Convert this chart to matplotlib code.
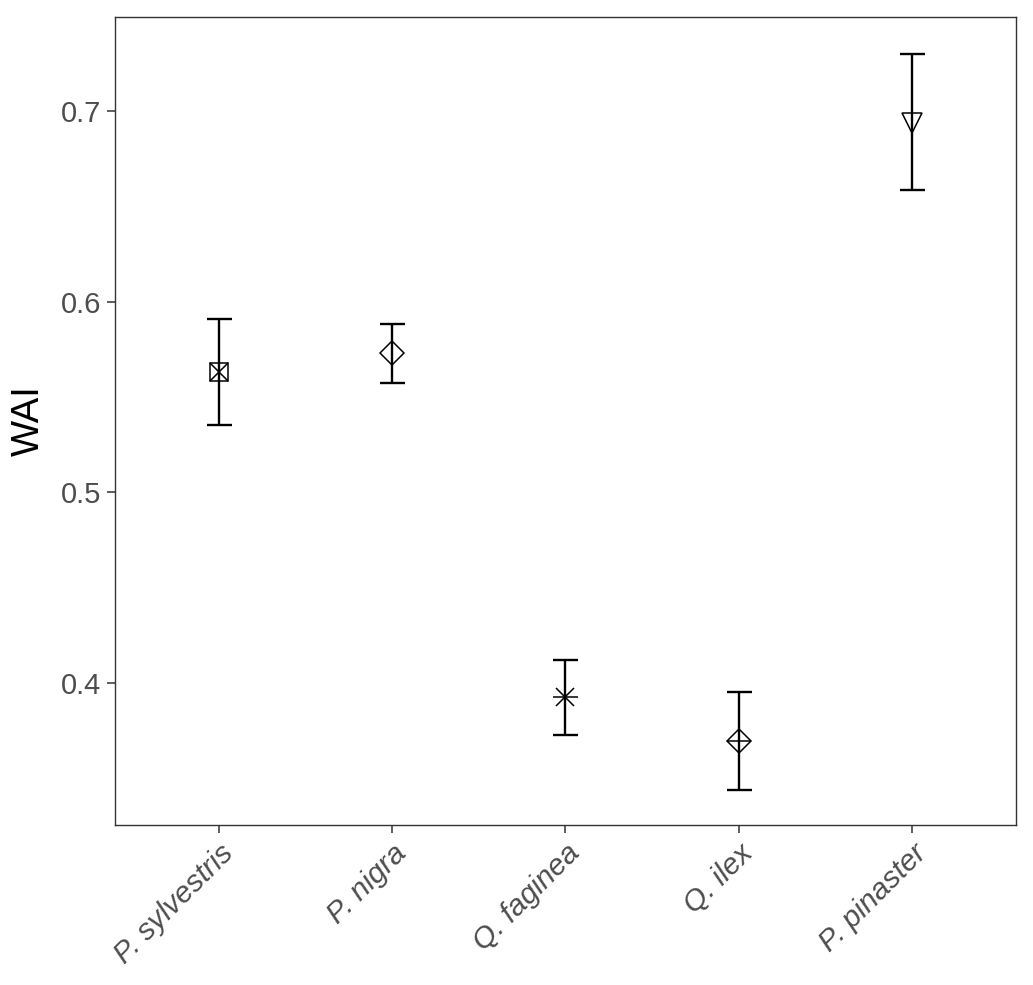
import matplotlib
matplotlib.use("Agg")
import matplotlib.pyplot as plt
import numpy as np

species = ["P. sylvestris", "P. nigra", "Q. faginea", "Q. ilex", "P. pinaster"]
wai_mean = [0.5633, 0.5733, 0.3927, 0.3696, 0.6937]
wai_low = [0.5355, 0.5575, 0.3727, 0.3439, 0.6586]
wai_high = [0.5911, 0.5885, 0.4121, 0.3953, 0.7299]
yticks = [0.4, 0.5, 0.6, 0.7]

plt.rcParams['font.family'] = ['Liberation Sans', 'DejaVu Sans']

fig = plt.figure(figsize=(10.33, 9.85), dpi=100)
ax = fig.add_axes([0.1113, 0.1624, 0.8722, 0.8203])

x = np.arange(1, len(species) + 1)
mean = np.array(wai_mean)
lo = mean - np.array(wai_low)
hi = np.array(wai_high) - mean
ax.errorbar(x, mean, yerr=[lo, hi], fmt='none', ecolor='black', elinewidth=1.7,
            capsize=9, capthick=1.7, zorder=2)

mew = 1.1
ms = 13
# P. sylvestris: square cross
ax.plot(x[0], mean[0], marker='s', ms=ms, mfc='none', mec='black', mew=mew, zorder=3)
ax.plot(x[0], mean[0], marker='x', ms=ms, mfc='none', mec='black', mew=mew, zorder=3)
# P. nigra: diamond
ax.plot(x[1], mean[1], marker='D', ms=12.5, mfc='none', mec='black', mew=mew, zorder=3)
# Q. faginea: asterisk
ax.plot(x[2], mean[2], marker='+', ms=18, mfc='none', mec='black', mew=mew, zorder=3)
ax.plot(x[2], mean[2], marker='x', ms=13, mfc='none', mec='black', mew=mew, zorder=3)
# Q. ilex: diamond plus
ax.plot(x[3], mean[3], marker='D', ms=12.5, mfc='none', mec='black', mew=mew, zorder=3)
ax.plot(x[3], mean[3], marker='+', ms=17.7, mfc='none', mec='black', mew=mew, zorder=3)
# P. pinaster: triangle down
ax.plot(x[4], mean[4], marker='v', ms=14, mfc='none', mec='black', mew=mew, zorder=3)

ax.set_xlim(0.4, 5.6)
ax.set_ylim(0.3255, 0.7493)
ax.set_xticks(x)
ax.set_xticklabels(species, rotation=45, ha='right', va='top', rotation_mode='anchor',
                   fontsize=21.5, style='italic', color='#4D4D4D')
ax.set_yticks(yticks)
ax.set_yticklabels([f"{v:.1f}" for v in yticks], fontsize=21, color='#4D4D4D')
ax.tick_params(axis='both', length=6, width=1.1, color='#333333', pad=4)
ax.set_ylabel("WAI", fontsize=27.5, color='black', labelpad=10)
for s in ax.spines.values():
    s.set_linewidth(1.0)
    s.set_color('#333333')

fig.savefig("out.png", dpi=100)
